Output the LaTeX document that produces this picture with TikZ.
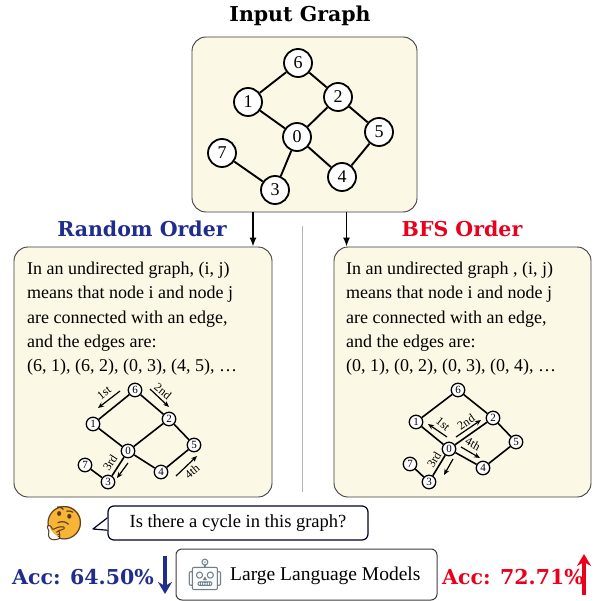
\documentclass[tikz,border=0pt]{standalone}
\usepackage{fontspec}
\setmainfont{Liberation Serif}
\newfontfamily\titlefont{DejaVu Serif}
\newfontfamily\emojifont{Noto Emoji}
\usetikzlibrary{arrows.meta}
\definecolor{boxfill}{HTML}{FCF8E6}
\definecolor{boxdraw}{HTML}{3C3C3C}
\definecolor{accblue}{HTML}{1F2D8C}
\definecolor{accred}{HTML}{E8001C}
\definecolor{sepgray}{HTML}{B4B4B4}
\definecolor{robotgray}{HTML}{6F808C}
\definecolor{faceyellow}{HTML}{F7B538}
\definecolor{facebrown}{HTML}{5A3A1A}
\begin{document}
\begin{tikzpicture}[x=1pt,y=-1pt,
  bigv/.style={circle,draw,line width=1.8pt,fill=white,minimum size=28pt,inner sep=0pt,font=\fontsize{18}{18}\selectfont},
  smallv/.style={circle,draw,line width=1.3pt,fill=white,minimum size=13.5pt,inner sep=0pt,font=\fontsize{11}{11}\selectfont},
  bigedge/.style={line width=1.9pt},
  smalledge/.style={line width=1.6pt},
  ordarrow/.style={-{Stealth[length=6pt,width=5pt]},line width=1.2pt},
  ordlabel/.style={font=\fontsize{12}{12}\selectfont,inner sep=0pt},
  panel/.style={draw=boxdraw,fill=boxfill,line width=0.9pt,rounded corners=14pt,inner sep=0pt},
  bodytext/.style={anchor=north west,align=left,inner sep=0pt,font=\fontsize{18}{24.3}\selectfont},
  titletext/.style={font=\titlefont\bfseries\fontsize{20.5}{20.5}\selectfont,inner sep=0pt},
  flowarrow/.style={-{Latex[length=9pt,width=7pt]},line width=1.4pt},
  accarrow/.style={-{Stealth[length=12pt,width=14pt,inset=4pt]},line width=3.6pt},
]
\useasboundingbox (0,0) rectangle (594,601);

% ---------- Input graph ----------
\node[titletext] (tin) at (300,16) {Input Graph};
\node[panel,minimum width=225pt,minimum height=175pt] (inbox) at (304.5,124.5) {};
\node[bigv] (g6) at (298,63) {6};
\node[bigv] (g1) at (248,102) {1};
\node[bigv] (g2) at (338,97) {2};
\node[bigv] (g0) at (297,137) {0};
\node[bigv] (g5) at (379,132) {5};
\node[bigv] (g7) at (222,153) {7};
\node[bigv] (g3) at (275,190) {3};
\node[bigv] (g4) at (342,177) {4};
\draw[bigedge] (g6)--(g1) (g6)--(g2) (g1)--(g0) (g2)--(g0) (g2)--(g5)
  (g0)--(g3) (g0)--(g4) (g4)--(g5) (g7)--(g3);

% ---------- panels ----------
\node[panel,minimum width=258pt,minimum height=250pt] (lbox) at (143,372) {};
\node[panel,minimum width=257pt,minimum height=250pt] (rbox) at (462.5,372) {};
\draw[flowarrow] ([xshift=-51.5pt]inbox.south) -- ([xshift=-51.5pt]inbox.south |- lbox.north);
\draw[flowarrow] ([xshift=42pt]inbox.south) -- ([xshift=42pt]inbox.south |- rbox.north);
\node[titletext,text=accblue] (tl) at (142,229) {Random Order};
\node[titletext,text=accred] (tr) at (462,229) {BFS Order};
\coordinate (s1) at (302,226);
\coordinate (s2) at (302,492);
\draw[sepgray,line width=1pt] (s1) -- (s2);

\node[bodytext] (ltext) at (27,262) {In an undirected graph, (i, j)\\means that node i and node j\\are connected with an edge,\\and the edges are:\\(6, 1), (6, 2), (0, 3), (4, 5), \ldots};
\node[bodytext] (rtext) at (346,262) {In an undirected graph , (i, j)\\means that node i and node j\\are connected with an edge,\\and the edges are:\\(0, 1), (0, 2), (0, 3), (0, 4), \ldots};

% ---------- left small graph ----------
\node[smallv] (a6) at (135,390) {6};
\node[smallv] (a1) at (93,424) {1};
\node[smallv] (a2) at (169,419) {2};
\node[smallv] (a0) at (128,451) {0};
\node[smallv] (a5) at (194,445) {5};
\node[smallv] (a7) at (85,465) {7};
\node[smallv] (a3) at (108,482) {3};
\node[smallv] (a4) at (161,472) {4};
\draw[smalledge] (a6)--(a1) (a6)--(a2) (a1)--(a0) (a2)--(a0) (a2)--(a5)
  (a0)--(a3) (a0)--(a4) (a4)--(a5) (a7)--(a3);
\coordinate (la1) at (120,391); \coordinate (lb1) at (98,408);
\coordinate (la2) at (150,389); \coordinate (lb2) at (169,407);
\coordinate (la3) at (128,463); \coordinate (lb3) at (117,478);
\coordinate (la4) at (176,476); \coordinate (lb4) at (197,456);
\draw[ordarrow] (la1) -- (lb1);
\draw[ordarrow] (la2) -- (lb2);
\draw[ordarrow] (la3) -- (lb3);
\draw[ordarrow] (la4) -- (lb4);
\node[ordlabel,rotate=39] (ll1) at (104,393) {1st};
\node[ordlabel,rotate=-40] (ll2) at (163,391) {2nd};
\node[ordlabel,rotate=57] (ll3) at (110,463) {3rd};
\node[ordlabel,rotate=40] (ll4) at (192,471) {4th};

% ---------- right small graph ----------
\node[smallv] (b6) at (458,390) {6};
\node[smallv] (b1) at (416,422) {1};
\node[smallv] (b2) at (493,418) {2};
\node[smallv] (b0) at (449,449) {0};
\node[smallv] (b5) at (516,442) {5};
\node[smallv] (b7) at (410,464) {7};
\node[smallv] (b3) at (429,482) {3};
\node[smallv] (b4) at (483,468) {4};
\draw[smalledge] (b6)--(b1) (b6)--(b2) (b1)--(b0) (b2)--(b0) (b2)--(b5)
  (b0)--(b3) (b0)--(b4) (b4)--(b5) (b7)--(b3);
\coordinate (ra1) at (447,437); \coordinate (rb1) at (428,424);
\coordinate (ra2) at (456,437); \coordinate (rb2) at (481,420);
\coordinate (ra3) at (453,459); \coordinate (rb3) at (444,475);
\coordinate (ra4) at (461,447); \coordinate (rb4) at (480,458);
\draw[ordarrow] (ra1) -- (rb1);
\draw[ordarrow] (ra2) -- (rb2);
\draw[ordarrow] (ra3) -- (rb3);
\draw[ordarrow] (ra4) -- (rb4);
\node[ordlabel,rotate=-39] (rl1) at (443,424) {1st};
\node[ordlabel,rotate=35] (rl2) at (466,422) {2nd};
\node[ordlabel,rotate=59] (rl3) at (434,460) {3rd};
\node[ordlabel,rotate=-29] (rl4) at (473,444) {4th};

% ---------- question ----------
\fill[faceyellow] (65,522) circle (16pt);
\node[text=facebrown,inner sep=0pt,font=\emojifont\fontsize{33}{33}\selectfont] (face) at (64,524) {🤔};
\node[draw=black!85!blue,line width=1.2pt,rounded corners=6pt,fill=white,minimum width=260pt,minimum height=34pt,inner sep=0pt,font=\fontsize{18.5}{18.5}\selectfont] (q) at (238,523) {Is there a cycle in this graph?};
\coordinate (tip) at (93,529);
\fill[white] ([yshift=5.2pt]q.west) -- (tip) -- ([yshift=-7.2pt]q.west) -- cycle;
\draw[black!85!blue,line width=1.2pt,line join=round] ([yshift=5.2pt]q.west) -- (tip) -- ([yshift=-7.2pt]q.west);

% ---------- LLM ----------
\node[draw=boxdraw,line width=1pt,rounded corners=6pt,minimum width=261pt,minimum height=51pt,inner sep=0pt] (llm) at (306.5,574.5) {};
\node[text=robotgray,inner sep=0pt,font=\emojifont\fontsize{31}{31}\selectfont] (robot) at (205,575) {🤖};
\node[anchor=west,inner sep=0pt,font=\fontsize{19.5}{19.5}\selectfont] (llmt) at (230,576) {Large Language Models};

\node[anchor=west,titletext,text=accblue] (accl) at (12,577) {Acc: 64.50\%};
\coordinate (dl1) at (165,556); \coordinate (dl2) at (165,594);
\draw[accarrow,accblue] (dl1) -- (dl2);
\node[anchor=west,titletext,text=accred] (accr) at (442,577) {Acc: 72.71\%};
\coordinate (ur1) at (584,595); \coordinate (ur2) at (584,554);
\draw[accarrow,accred] (ur1) -- (ur2);
\end{tikzpicture}
\end{document}
